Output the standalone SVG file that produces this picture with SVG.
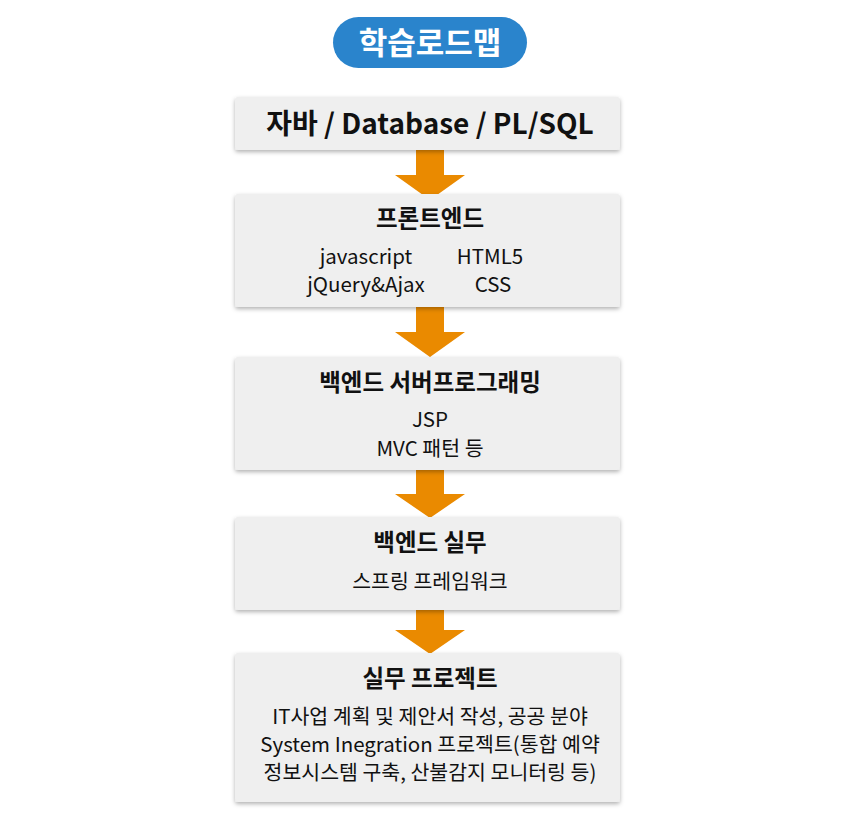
<svg xmlns="http://www.w3.org/2000/svg" width="860" height="828" viewBox="0 0 860 828">
<defs>
<filter id="sh" x="-5%" y="-10%" width="110%" height="130%"><feDropShadow dx="0" dy="2" stdDeviation="2" flood-color="#000" flood-opacity="0.3"/></filter>
<style>
.box{fill:#efefef;filter:url(#sh)}
.t{font-family:"Noto Sans CJK KR","Noto Sans",sans-serif;text-anchor:middle;fill:#111}
.h{font-size:23.5px;font-weight:700}
.b{font-size:20.5px}
.arr{fill:#ea8a00}
</style>
</defs>
<rect width="860" height="828" fill="#fff"/>
<g id="title"><rect x="333" y="17" width="194" height="51" rx="25.5" fill="#2a84cc"/><text class="t" x="430" y="54" font-size="31" font-weight="700" style="fill:#fff">학습로드맵</text></g>
<g id="connectors">
<path class="arr" d="M416 150H444V175H465L430 200L395 175H416Z"/>
<path class="arr" d="M416 307H444V332H465L430 357L395 332H416Z"/>
<path class="arr" d="M416 470H444V494H465L430 518L395 494H416Z"/>
<path class="arr" d="M416 610H444V630H465L430 654L395 630H416Z"/>
</g>
<g id="n1"><rect class="box" x="235" y="97" width="385" height="53" rx="3"/><text class="t" x="430" y="134" font-size="28" font-weight="700">자바 / Database / PL/SQL</text></g>
<g id="n2"><rect class="box" x="235" y="194" width="385" height="113" rx="3"/><text class="t h" x="430" y="227">프론트엔드</text>
<text class="t b" x="366" y="264">javascript</text><text class="t b" x="490" y="264">HTML5</text>
<text class="t b" x="366" y="292">jQuery&amp;Ajax</text><text class="t b" x="493" y="292">CSS</text></g>
<g id="n3"><rect class="box" x="235" y="357" width="385" height="113" rx="3"/><text class="t h" x="430" y="391">백엔드 서버프로그래밍</text>
<text class="t b" x="430" y="427">JSP</text><text class="t b" x="430" y="456">MVC 패턴 등</text></g>
<g id="n4"><rect class="box" x="235" y="517" width="385" height="93" rx="3"/><text class="t h" x="430" y="551">백엔드 실무</text>
<text class="t b" x="430" y="589">스프링 프레임워크</text></g>
<g id="n5"><rect class="box" x="235" y="653" width="385" height="149" rx="3"/><text class="t h" x="430" y="687">실무 프로젝트</text>
<text class="t b" x="430" y="724">IT사업 계획 및 제안서 작성, 공공 분야</text>
<text class="t b" x="430" y="752">System Inegration 프로젝트(통합 예약</text>
<text class="t b" x="430" y="780">정보시스템 구축, 산불감지 모니터링 등)</text></g>
</svg>
